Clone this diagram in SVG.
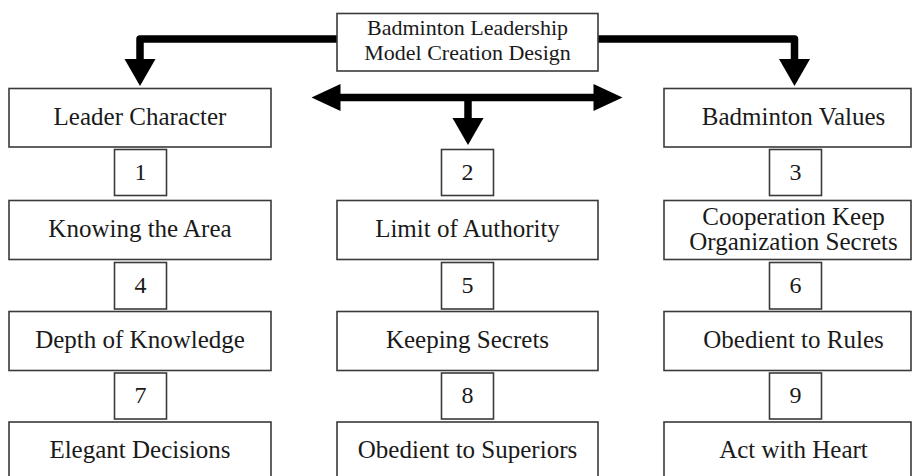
<svg xmlns="http://www.w3.org/2000/svg" width="913" height="476" viewBox="0 0 913 476">
<style>
  .box { fill: #ffffff; stroke: #3a3a3a; stroke-width: 1.6; }
  .f { font-family: "Times New Roman", "Liberation Serif", Tinos, "DejaVu Serif", serif; fill: #1a1a1a; text-anchor: middle; }
  .t { font-size: 25px; }
  .n { font-size: 24px; }
  .top { font-size: 22px; }
  .conn { fill: none; stroke: #000000; stroke-width: 7.5; stroke-linejoin: round; }
</style>
<defs>
  <marker id="headV" markerUnits="userSpaceOnUse" markerWidth="28" markerHeight="31" refX="0.5" refY="15.5" orient="auto" overflow="visible">
    <path d="M0,0 L27,15.5 L0,31 z" fill="#000000"/>
  </marker>
  <marker id="headH" markerUnits="userSpaceOnUse" markerWidth="30" markerHeight="27" refX="0.5" refY="13.5" orient="auto-start-reverse" overflow="visible">
    <path d="M0,0 L29,13.5 L0,27 z" fill="#000000"/>
  </marker>
</defs>
<rect width="913" height="476" fill="#ffffff"/>

<g id="connectors">
  <path class="conn" d="M337,39 H140 V59.5" stroke-linecap="round" marker-end="url(#headV)"/>
  <path class="conn" d="M598,39 H794.5 V59.5" stroke-linecap="round" marker-end="url(#headV)"/>
  <path class="conn" d="M340,97.5 H594" marker-start="url(#headH)" marker-end="url(#headH)"/>
  <path class="conn" d="M468,97.5 V118.5" marker-end="url(#headV)"/>
</g>

<g id="root">
  <rect class="box" x="337" y="13.5" width="261" height="57.5"/>
  <text class="f top" x="467.5" y="34.7">Badminton Leadership</text>
  <text class="f top" x="467.5" y="60">Model Creation Design</text>
</g>

<g id="leader-character">
  <rect class="box" x="9" y="88.5" width="262" height="58.5"/>
  <text class="f t" x="140" y="124.5">Leader Character</text>
</g>
<g id="num-1">
  <rect class="box" x="114.5" y="149.5" width="52" height="46"/>
  <text class="f n" x="140.5" y="179.5">1</text>
</g>
<g id="knowing-the-area">
  <rect class="box" x="9" y="200.5" width="262" height="59"/>
  <text class="f t" x="140" y="236.5">Knowing the Area</text>
</g>
<g id="num-4">
  <rect class="box" x="114.5" y="262.5" width="52" height="46.5"/>
  <text class="f n" x="140.5" y="292.5">4</text>
</g>
<g id="depth-of-knowledge">
  <rect class="box" x="9" y="311.5" width="262" height="59"/>
  <text class="f t" x="140" y="347.5">Depth of Knowledge</text>
</g>
<g id="num-7">
  <rect class="box" x="114.5" y="373" width="52" height="46"/>
  <text class="f n" x="140.5" y="403">7</text>
</g>
<g id="elegant-decisions">
  <rect class="box" x="9" y="422" width="262" height="60"/>
  <text class="f t" x="140" y="458">Elegant Decisions</text>
</g>

<g id="num-2">
  <rect class="box" x="441.5" y="149.5" width="52" height="46"/>
  <text class="f n" x="467.5" y="179.5">2</text>
</g>
<g id="limit-of-authority">
  <rect class="box" x="337" y="200.5" width="261" height="59"/>
  <text class="f t" x="467.5" y="236.5">Limit of Authority</text>
</g>
<g id="num-5">
  <rect class="box" x="441.5" y="262.5" width="52" height="46.5"/>
  <text class="f n" x="467.5" y="292.5">5</text>
</g>
<g id="keeping-secrets">
  <rect class="box" x="337" y="311.5" width="261" height="59"/>
  <text class="f t" x="467.5" y="347.5">Keeping Secrets</text>
</g>
<g id="num-8">
  <rect class="box" x="441.5" y="373" width="52" height="46"/>
  <text class="f n" x="467.5" y="403">8</text>
</g>
<g id="obedient-to-superiors">
  <rect class="box" x="337" y="422" width="261" height="60"/>
  <text class="f t" x="467.5" y="458">Obedient to Superiors</text>
</g>

<g id="badminton-values">
  <rect class="box" x="664" y="88.5" width="247" height="58.5"/>
  <text class="f t" x="793.5" y="124.5">Badminton Values</text>
</g>
<g id="num-3">
  <rect class="box" x="769.5" y="149.5" width="52" height="46"/>
  <text class="f n" x="795.5" y="179.5">3</text>
</g>
<g id="cooperation">
  <rect class="box" x="664" y="200.5" width="247" height="59"/>
  <text class="f t" x="793.5" y="224.5">Cooperation Keep</text>
  <text class="f t" x="793.5" y="250">Organization Secrets</text>
</g>
<g id="num-6">
  <rect class="box" x="769.5" y="262.5" width="52" height="46.5"/>
  <text class="f n" x="795.5" y="292.5">6</text>
</g>
<g id="obedient-to-rules">
  <rect class="box" x="664" y="311.5" width="247" height="59"/>
  <text class="f t" x="793.5" y="347.5">Obedient to Rules</text>
</g>
<g id="num-9">
  <rect class="box" x="769.5" y="373" width="52" height="46"/>
  <text class="f n" x="795.5" y="403">9</text>
</g>
<g id="act-with-heart">
  <rect class="box" x="664" y="422" width="247" height="60"/>
  <text class="f t" x="793.5" y="458">Act with Heart</text>
</g>
</svg>
